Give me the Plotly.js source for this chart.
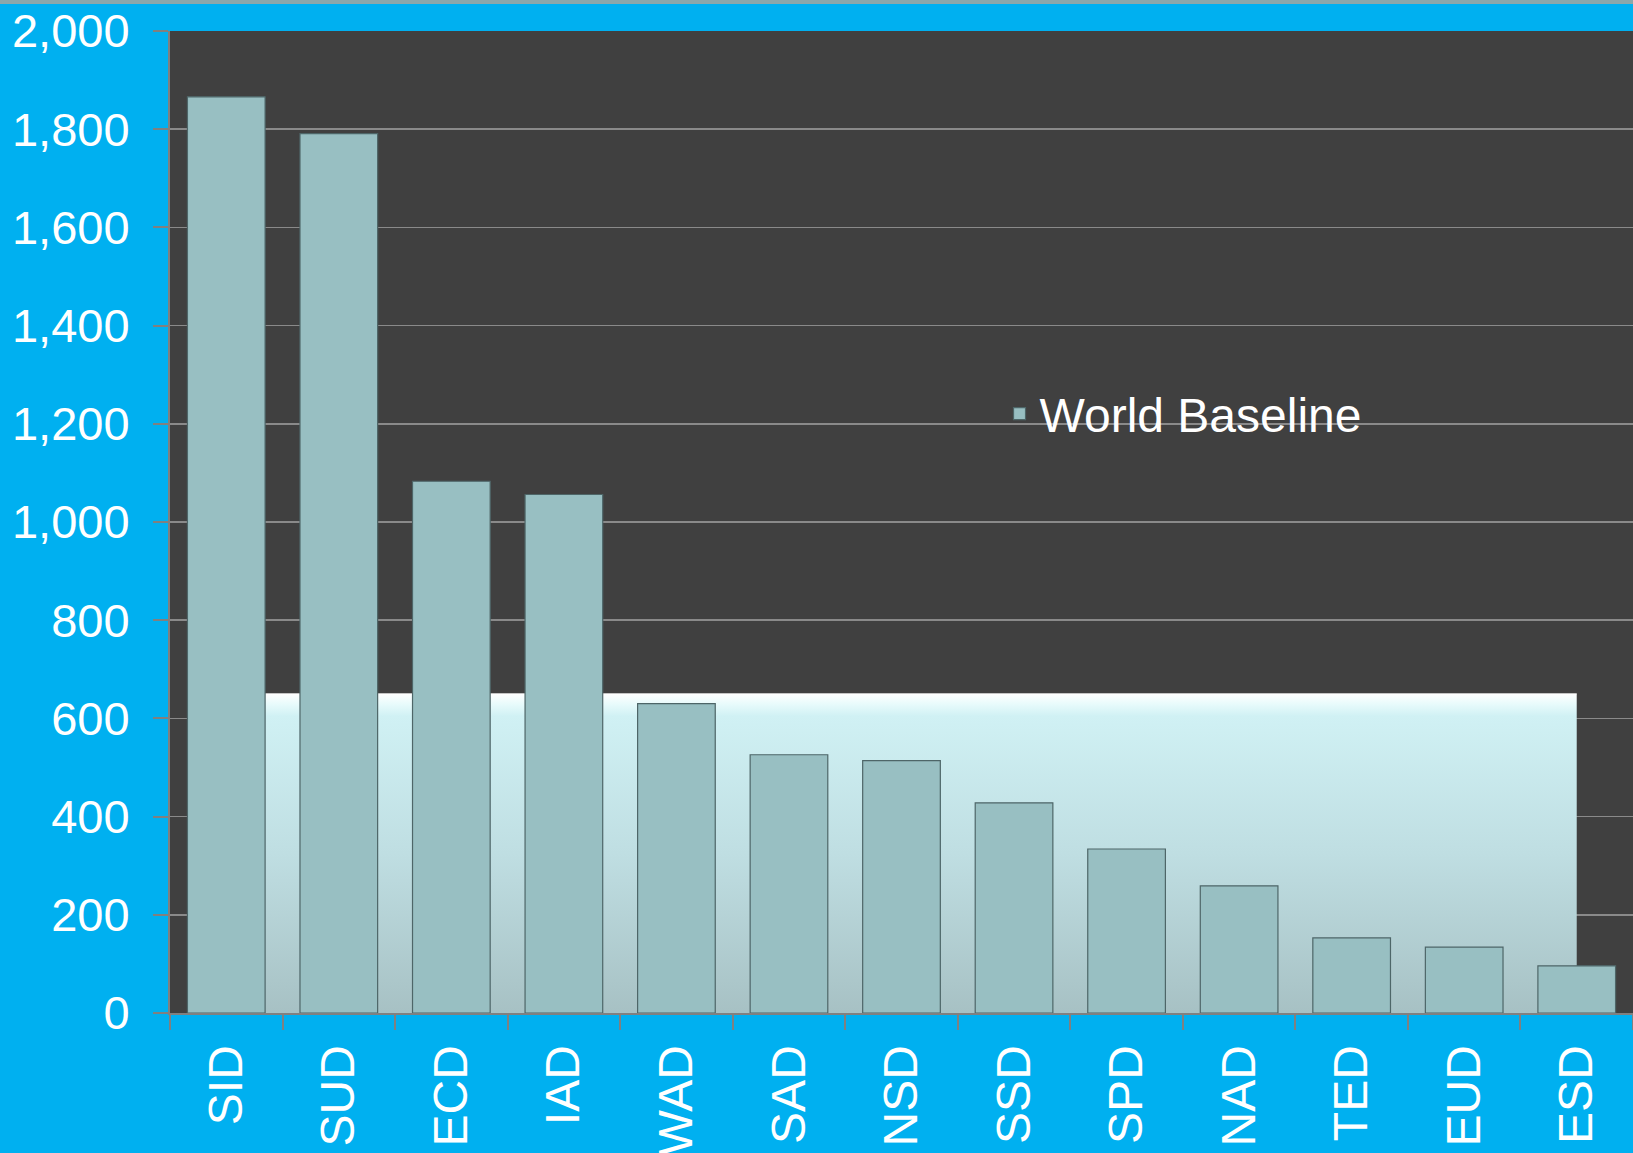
<!DOCTYPE html>
<html>
<head>
<meta charset="utf-8">
<script src="https://cdn.plot.ly/plotly-3.0.1.min.js"></script>
<style>
  html, body { margin: 0; padding: 0; background: #00B0F0; }
  #chart { width: 1633px; height: 1153px; }
</style>
</head>
<body>
<div id="chart"></div>
<script>
// ---- data ----
const categories = ["SID", "SUD", "ECD", "IAD", "WAD", "SAD", "NSD", "SSD", "SPD", "NAD", "TED", "EUD", "ESD"];
const regionValues = [1866, 1791, 1083, 1056, 630, 526, 514, 428, 334, 259, 153, 134, 96];
const worldBaselineValue = 650;
const worldBaseline = categories.map(() => worldBaselineValue);
const yTickValues = [0, 200, 400, 600, 800, 1000, 1200, 1400, 1600, 1800, 2000];
const yTickLabels = ["0", "200", "400", "600", "800", "1,000", "1,200", "1,400", "1,600", "1,800", "2,000"];

const FONT = "'Liberation Sans', Arial, sans-serif";
const Y_RANGE = [0, 2000];
const X_RANGE = [-0.5, categories.length - 0.5];

const traces = [
  {
    type: "scatter",
    name: "World Baseline",
    x: categories,
    y: worldBaseline,
    xaxis: "x",
    yaxis: "y",
    mode: "lines",
    line: { color: "rgba(255,255,255,0.9)", width: 1 },
    fill: "tozeroy",
    fillcolor: "#C4E6EA",
    fillgradient: {
      type: "vertical",
      start: 0,
      stop: worldBaselineValue,
      colorscale: [
        [0, "#A7C1C4"],
        [0.5, "#BFDEE2"],
        [0.93, "#D0F1F4"],
        [0.965, "#E6FAFB"],
        [1, "#FFFFFF"]
      ]
    },
    showlegend: false,
    hoverinfo: "skip"
  },
  {
    type: "bar",
    name: "World Baseline",
    x: categories,
    y: regionValues,
    xaxis: "x2",
    yaxis: "y2",
    width: 0.69,
    marker: {
      color: "#98BFC2",
      line: { color: "#4E6668", width: 1.2 }
    },
    showlegend: true
  }
];

const layout = {
  width: 1633,
  height: 1153,
  paper_bgcolor: "#00B0F0",
  plot_bgcolor: "#404040",
  margin: { l: 170, r: 0, t: 31, b: 140, pad: 0 },
  font: { family: FONT, color: "#FFFFFF", size: 46 },
  showlegend: true,
  legend: {
    x: 0.567,
    y: 0.61,
    xanchor: "left",
    yanchor: "middle",
    bgcolor: "rgba(0,0,0,0)",
    font: { family: FONT, size: 48, color: "#FFFFFF" },
    itemwidth: 30
  },
  xaxis: {
    type: "category",
    categoryorder: "array",
    categoryarray: categories,
    range: X_RANGE,
    tickangle: -90,
    tickfont: { family: FONT, size: 48, color: "#FFFFFF" },
    ticks: "outside",
    ticklen: 15,
    tickwidth: 2,
    tickcolor: "#808080",
    tickson: "boundaries",
    ticklabelstandoff: 11,
    showline: true,
    linecolor: "#808080",
    linewidth: 2,
    showgrid: false,
    zeroline: false,
    fixedrange: true
  },
  yaxis: {
    range: Y_RANGE,
    tickvals: yTickValues,
    ticktext: yTickLabels,
    tickfont: { family: FONT, size: 47, color: "#FFFFFF" },
    ticks: "outside",
    ticklen: 15,
    tickwidth: 2,
    tickcolor: "#808080",
    ticklabelstandoff: 14,
    showline: true,
    linecolor: "#808080",
    linewidth: 2,
    showgrid: true,
    gridcolor: "#8A8A8A",
    gridwidth: 1.5,
    zeroline: false,
    fixedrange: true
  },
  xaxis2: {
    type: "category",
    categoryorder: "array",
    categoryarray: categories,
    range: X_RANGE,
    overlaying: "x",
    anchor: "y2",
    visible: false,
    showgrid: false,
    zeroline: false,
    fixedrange: true
  },
  yaxis2: {
    range: Y_RANGE,
    overlaying: "y",
    anchor: "x2",
    visible: false,
    showgrid: false,
    zeroline: false,
    fixedrange: true
  },
  shapes: [
    {
      type: "rect", xref: "paper", yref: "paper",
      x0: -0.2, x1: 1.01, y0: 1.0 + 27 / 982, y1: 1.0 + 40 / 982,
      fillcolor: "#8CA7AA", line: { width: 0 }, layer: "below"
    }
  ]
};

Plotly.newPlot("chart", traces, layout, { displayModeBar: false, staticPlot: true });
</script>
</body>
</html>
